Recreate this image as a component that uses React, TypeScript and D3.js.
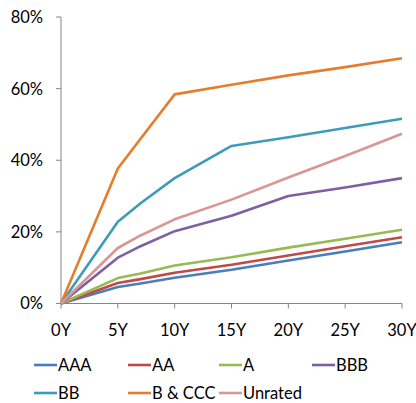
import React from "react";
import * as d3 from "d3";

const years = [0, 5, 7, 10, 15, 20, 25, 30];
const xTicks = [0, 5, 10, 15, 20, 25, 30];
const yTicks = [0, 20, 40, 60, 80];

const seriesNames = ["AAA", "AA", "A", "BBB", "BB", "B & CCC", "Unrated"];
const aaa = [0, 4.6, 5.6, 7.2, 9.4, 12.0, 14.5, 17.1];
const aa = [0, 5.7, 6.8, 8.6, 10.8, 13.4, 16.0, 18.5];
const aRated = [0, 7.1, 8.4, 10.6, 12.9, 15.6, 18.1, 20.6];
const bbb = [0, 12.8, 16.0, 20.2, 24.5, 30.0, 32.4, 35.0];
const bb = [0, 22.8, 28.0, 35.0, 44.0, 46.4, 49.0, 51.6];
const bccc = [0, 37.7, 46.0, 58.4, 61.1, 63.7, 66.0, 68.5];
const unrated = [0, 15.5, 19.0, 23.5, 29.0, 35.2, 41.2, 47.4];

const seriesValues = [aaa, aa, aRated, bbb, bb, bccc, unrated];
const colors = ["#4A7EBB", "#BE4B48", "#98B954", "#7D60A0", "#3D9CB8", "#E47E2E", "#D99694"];

export default function App() {
  const W = 416, H = 403;
  const x = d3.scaleLinear().domain([0, 30]).range([61, 402]);
  const y = d3.scaleLinear().domain([0, 80]).range([303.5, 17]);
  const line = d3.line<number>().x((_, i) => x(years[i])).y((d) => y(d));
  const font = "Lato, 'Liberation Sans', sans-serif";
  const axisColor = "#868686";

  const legendCols = [34, 128, 219, 312];
  const legendRows = [365, 393];

  return (
    <svg width={W} height={H} style={{ position: "absolute", left: 0, top: 0, background: "#fff" }}>
      {/* y axis */}
      <line x1={x(0)} x2={x(0)} y1={y(80)} y2={y(0)} stroke={axisColor} strokeWidth={1} />
      {yTicks.map((t) => (
        <g key={"y" + t}>
          <line x1={x(0) - 5} x2={x(0)} y1={y(t)} y2={y(t)} stroke={axisColor} strokeWidth={1} />
          <text x={43} y={y(t)} dy="0.36em" textAnchor="end" fontFamily={font} fontSize={16.5} fill="#000">
            {t}%
          </text>
        </g>
      ))}
      {/* x axis */}
      <line x1={x(0)} x2={x(30)} y1={y(0)} y2={y(0)} stroke={axisColor} strokeWidth={1} />
      {xTicks.map((t) => (
        <g key={"x" + t}>
          <line x1={x(t)} x2={x(t)} y1={y(0)} y2={y(0) + 5} stroke={axisColor} strokeWidth={1} />
          <text x={x(t)} y={330} dy="0.36em" textAnchor="middle" fontFamily={font} fontSize={16.5} fill="#000">
            {t}Y
          </text>
        </g>
      ))}
      {/* lines */}
      {seriesValues.map((vals, i) => (
        <path key={seriesNames[i]} d={line(vals) || ""} fill="none" stroke={colors[i]} strokeWidth={2.6} strokeLinejoin="round" />
      ))}
      {/* legend */}
      {seriesNames.map((name, i) => {
        const lx = legendCols[i % 4];
        const ly = legendRows[Math.floor(i / 4)];
        return (
          <g key={"lg" + name}>
            <line x1={lx} x2={lx + 23} y1={ly} y2={ly} stroke={colors[i]} strokeWidth={2.6} />
            <text x={lx + 24} y={ly} dy="0.36em" fontFamily={font} fontSize={16.5} fill="#000">
              {name}
            </text>
          </g>
        );
      })}
    </svg>
  );
}
